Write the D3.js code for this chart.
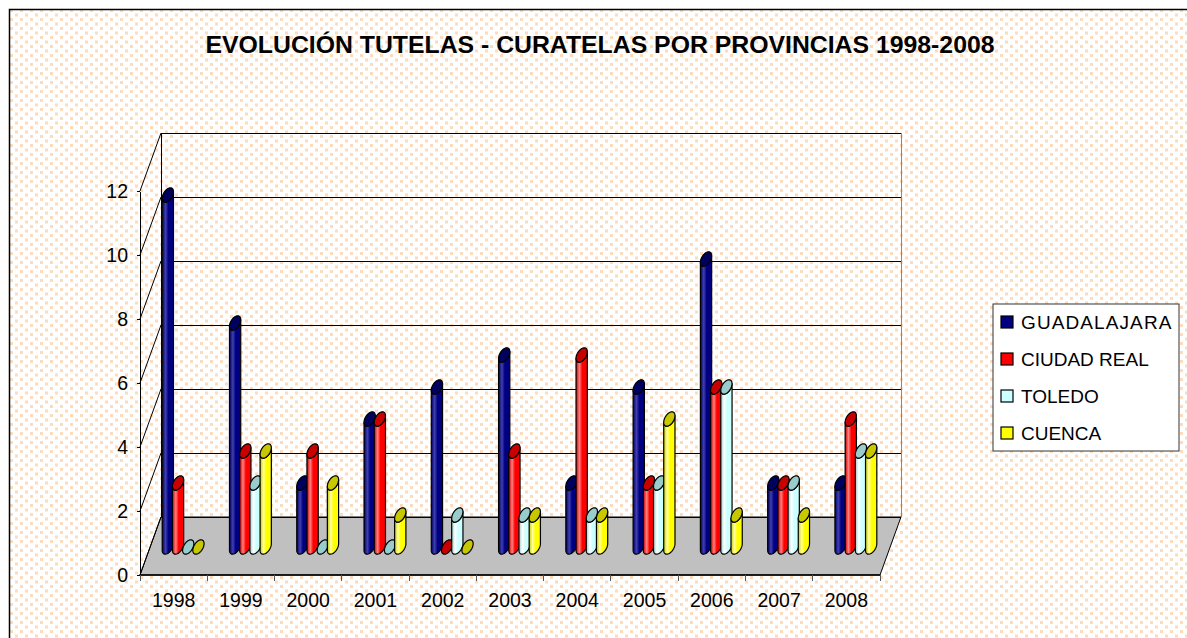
<!DOCTYPE html>
<html>
<meta charset="utf-8">
<style>
body { margin: 0; background: #fff; }
text { font-family: Arial, "Liberation Sans", sans-serif; }
.axis path, .axis line { stroke: #000; shape-rendering: crispEdges; }
</style>
<body>
<script src="https://d3js.org/d3.v7.min.js"></script>
<script>
// data
var years = ["1998","1999","2000","2001","2002","2003","2004","2005","2006","2007","2008"];
var seriesNames = ["GUADALAJARA","CIUDAD REAL","TOLEDO","CUENCA"];
var guadalajara = [11, 7, 2, 4, 5, 6, 2, 5, 9, 2, 2];
var ciudadReal  = [ 2, 3, 3, 4, 0, 3, 6, 2, 5, 2, 4];
var toledo      = [ 0, 2, 0, 0, 1, 1, 1, 2, 5, 2, 3];
var cuenca      = [ 0, 3, 2, 1, 0, 1, 1, 4, 1, 1, 3];
var yTicks = [0, 2, 4, 6, 8, 10, 12];

var seriesValues = [guadalajara, ciudadReal, toledo, cuenca];
var bodyColors = ["#000080", "#ff0000", "#ccffff", "#ffff00"];
var capColors  = ["#00005e", "#c80000", "#99cccc", "#c8c800"];
var lightColors = ["#4040b0", "#ff8080", "#ffffff", "#ffffa0"];

var W = 1187, H = 638;
var depthX = 21, depthY = -58;       // projection of the full floor depth
var barShiftX = 9.5, barShiftY = -28; // bars sit part way into the depth
var r = 5, ex = 2.6, ey = -7.2;       // cylinder radius and depth half-axis

var svg = d3.select("body").append("svg")
	.attr("width", W).attr("height", H);

var defs = svg.append("defs");
var pat = defs.append("pattern")
	.attr("id", "dots").attr("patternUnits", "userSpaceOnUse")
	.attr("width", 10).attr("height", 9);
pat.append("rect").attr("width", 10).attr("height", 9).attr("fill", "#fff");
pat.append("rect").attr("x", 0).attr("y", 0).attr("width", 3).attr("height", 3).attr("fill", "#fddcbd");
pat.append("rect").attr("x", 5).attr("y", 4.5).attr("width", 3).attr("height", 3).attr("fill", "#fddcbd");

seriesNames.forEach(function(s, j) {
	var g = defs.append("linearGradient").attr("id", "grad" + j)
		.attr("x1", "0%").attr("x2", "100%").attr("y1", "0%").attr("y2", "0%");
	g.append("stop").attr("offset", "0%").attr("stop-color", capColors[j]);
	g.append("stop").attr("offset", "30%").attr("stop-color", lightColors[j]);
	g.append("stop").attr("offset", "55%").attr("stop-color", bodyColors[j]);
	g.append("stop").attr("offset", "100%").attr("stop-color", bodyColors[j]);
});

// chart area background and border
svg.append("rect")
	.attr("x", 9.5).attr("y", 9.5).attr("width", W + 20).attr("height", H + 20)
	.attr("fill", "url(#dots)").attr("stroke", "#000").attr("stroke-width", 1.5);

svg.append("text")
	.attr("x", 600).attr("y", 53)
	.attr("text-anchor", "middle")
	.attr("font-size", "24.8px").attr("font-weight", "bold")
	.text("EVOLUCIÓN TUTELAS - CURATELAS POR PROVINCIAS 1998-2008");

var x = d3.scaleBand().domain(years).range([140, 880]);
var y = d3.scaleLinear().domain([0, 12]).range([575, 191]);
var inner = d3.scaleBand().domain(seriesNames).range([-20.4, 20.4]);

var x0 = x.range()[0], x1 = x.range()[1];

// floor
svg.append("path")
	.attr("d", "M" + x0 + "," + y(0) + "L" + x1 + "," + y(0) +
		"L" + (x1 + depthX) + "," + (y(0) + depthY) + "L" + (x0 + depthX) + "," + (y(0) + depthY) + "Z")
	.attr("fill", "#c0c0c0").attr("stroke", "#000").attr("stroke-width", 1);

// back wall gridlines
svg.append("g").selectAll("line").data(yTicks).join("line")
	.attr("x1", x0 + depthX).attr("x2", x1 + depthX)
	.attr("y1", function(d) { return y(d) + depthY; })
	.attr("y2", function(d) { return y(d) + depthY; })
	.attr("stroke", "#000").attr("stroke-width", 1).attr("shape-rendering", "crispEdges");

// left wall diagonals
svg.append("g").selectAll("line").data(yTicks).join("line")
	.attr("x1", x0).attr("x2", x0 + depthX)
	.attr("y1", function(d) { return y(d); })
	.attr("y2", function(d) { return y(d) + depthY; })
	.attr("stroke", "#000").attr("stroke-width", 1);

svg.append("line")
	.attr("x1", x0 + depthX).attr("x2", x0 + depthX)
	.attr("y1", y(12) + depthY).attr("y2", y(0) + depthY)
	.attr("stroke", "#000").attr("shape-rendering", "crispEdges");
svg.append("line")
	.attr("x1", x1 + depthX).attr("x2", x1 + depthX)
	.attr("y1", y(12) + depthY).attr("y2", y(0) + depthY)
	.attr("stroke", "#888").attr("shape-rendering", "crispEdges");

// Y axis
svg.append("g")
	.attr("class", "axis")
	.attr("transform", "translate(" + x0 + ",0)")
	.call(d3.axisLeft(y).tickValues(yTicks).tickSize(3).tickSizeOuter(0).tickPadding(9))
	.call(function(g) {
		g.selectAll("text").attr("font-size", "19.5px").attr("fill", "#000")
			.attr("font-family", "Arial, 'Liberation Sans', sans-serif");
	});

// X axis
svg.append("line")
	.attr("x1", x0).attr("x2", x1).attr("y1", y(0)).attr("y2", y(0))
	.attr("stroke", "#000").attr("stroke-width", 1.5);
var bounds = years.map(function(d) { return x(d); }).concat([x1]);
svg.append("g").selectAll("line").data(bounds).join("line")
	.attr("x1", function(d) { return d; }).attr("x2", function(d) { return d; })
	.attr("y1", y(0)).attr("y2", y(0) + 6)
	.attr("stroke", "#555").attr("shape-rendering", "crispEdges");
svg.append("g").selectAll("text").data(years).join("text")
	.attr("x", function(d) { return x(d) + x.bandwidth() / 2; })
	.attr("y", 607)
	.attr("text-anchor", "middle")
	.attr("font-size", "19.5px")
	.text(function(d) { return d; });

// cylinder helpers
function pt(cx, cy, t) {
	return [cx + r * Math.cos(t) + ex * Math.sin(t), cy + ey * Math.sin(t)];
}
function ellipsePath(cx, cy) {
	var p = [];
	for (var i = 0; i <= 36; i++) p.push(pt(cx, cy, i / 36 * 2 * Math.PI));
	return d3.line()(p) + "Z";
}
var tx = Math.atan2(ex, r);
function bodyPath(cx, yb, yt) {
	var p = [];
	var a0 = Math.PI + tx, a1 = 2 * Math.PI + tx;
	p.push(pt(cx, yb, a0));
	for (var i = 0; i <= 24; i++) p.push(pt(cx, yt, a0 + (a1 - a0) * i / 24));
	for (var k = 0; k <= 24; k++) p.push(pt(cx, yb, a1 - (a1 - a0) * k / 24));
	return d3.line()(p) + "Z";
}

var bars = svg.append("g");
years.forEach(function(yr, i) {
	seriesNames.forEach(function(s, j) {
		var v = seriesValues[j][i];
		var cx = x(yr) + x.bandwidth() / 2 + inner(s) + inner.bandwidth() / 2 + barShiftX;
		var yb = y(0) + barShiftY;
		var yt = yb - (y(0) - y(v));
		if (v > 0) {
			bars.append("path")
				.attr("d", bodyPath(cx, yb, yt))
				.attr("fill", "url(#grad" + j + ")")
				.attr("stroke", "#000").attr("stroke-width", 1.2).attr("stroke-linejoin", "round");
		}
		bars.append("path")
			.attr("d", ellipsePath(cx, yt))
			.attr("fill", capColors[j])
			.attr("stroke", "#000").attr("stroke-width", 1.2);
	});
});

// legend
var legend = svg.append("g");
legend.append("rect")
	.attr("x", 993).attr("y", 304).attr("width", 186).attr("height", 147)
	.attr("fill", "#fff").attr("stroke", "#333").attr("stroke-width", 1);
seriesNames.forEach(function(s, j) {
	var cy = 322 + j * 37;
	legend.append("rect")
		.attr("x", 1001).attr("y", cy - 6).attr("width", 12).attr("height", 12)
		.attr("fill", bodyColors[j]).attr("stroke", "#000").attr("stroke-width", 1.2);
	legend.append("text")
		.attr("x", 1021).attr("y", cy + 7)
		.attr("font-size", "19px")
		.attr("letter-spacing", j === 0 ? "1.1px" : "0px")
		.text(s);
});
</script>
</body>
</html>
